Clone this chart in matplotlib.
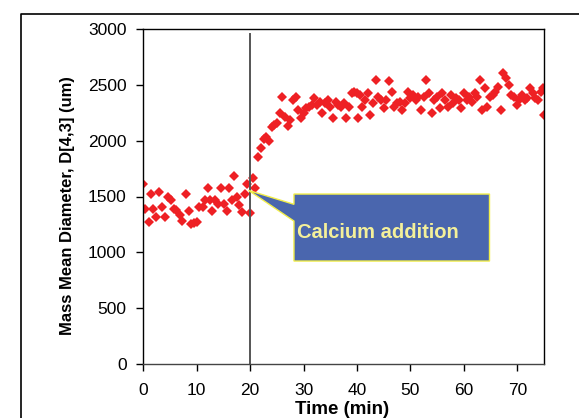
import matplotlib
matplotlib.use("Agg")
import matplotlib.pyplot as plt
from matplotlib.patches import Polygon
from matplotlib.lines import Line2D

plt.rcParams['font.family'] = ['Liberation Sans', 'DejaVu Sans']

# Time (min) and mass mean diameter D[4,3] (um)
time_min = [0.0, 0.35, 1.0, 1.5, 1.9, 2.4, 2.9, 3.5, 4.1, 4.6, 5.1, 5.7, 6.2, 6.8, 7.3,
            8.0, 8.5, 8.9, 9.5, 10.1, 10.5, 11.1, 11.6, 12.1, 12.5, 12.9, 13.5, 14.0,
            14.5, 15.1, 15.6, 16.1, 16.6, 17.0, 17.5, 18.0, 18.5, 19.0, 19.4, 20.0,
            20.5, 21.0, 21.4, 22.0, 22.5, 23.0, 23.5, 24.0, 24.5, 25.0, 25.5, 26.0,
            26.5, 27.0, 27.5, 28.0, 28.5, 29.0, 29.5, 30.0, 30.5, 31.0, 31.5, 32.0,
            32.5, 33.0, 33.5, 34.0, 34.5, 35.0, 35.5, 36.0, 36.5, 37.0, 37.5, 38.0,
            38.5, 39.0, 39.5, 40.0, 40.2, 40.5, 41.0, 41.5, 42.0, 42.5, 43.0, 43.5,
            44.0, 44.5, 45.0, 45.5, 46.0, 46.5, 47.0, 47.5, 48.0, 48.5, 49.0, 49.5,
            50.0, 50.5, 51.0, 51.5, 52.0, 52.5, 53.0, 53.5, 54.0, 54.5, 55.0, 55.5,
            56.0, 56.5, 57.0, 57.5, 58.0, 58.5, 59.0, 59.5, 60.0, 60.5, 61.0, 61.5,
            62.0, 62.5, 63.0, 63.4, 63.9, 64.4, 64.9, 65.4, 65.9, 66.4, 66.9, 67.4,
            67.9, 68.4, 68.9, 69.4, 69.9, 70.4, 70.9, 71.4, 71.9, 72.4, 72.9, 73.4,
            73.9, 74.4, 74.9, 75.0]
diameter_um = [1614, 1386, 1269, 1521, 1392, 1317, 1542, 1407, 1317, 1497, 1467, 1392, 1377,
               1332, 1281, 1518, 1368, 1257, 1263, 1269, 1407, 1407, 1473, 1572, 1473, 1371,
               1473, 1437, 1578, 1431, 1371, 1572, 1473, 1683, 1497, 1428, 1365, 1518, 1614,
               1356, 1668, 1578, 1856, 1937, 2018, 2036, 1997, 2126, 2141, 2156, 2246, 2395,
               2216, 2135, 2186, 2365, 2395, 2275, 2201, 2246, 2290, 2305, 2320, 2380, 2320,
               2350, 2246, 2335, 2365, 2305, 2201, 2350, 2320, 2305, 2335, 2201, 2305, 2431,
               2440, 2425, 2201, 2410, 2305, 2365, 2425, 2231, 2335, 2545, 2395, 2365, 2290,
               2365, 2530, 2440, 2305, 2335, 2350, 2275, 2335, 2440, 2380, 2410, 2365, 2395,
               2275, 2395, 2545, 2425, 2246, 2365, 2395, 2290, 2425, 2365, 2305, 2410, 2335,
               2380, 2365, 2290, 2425, 2365, 2395, 2350, 2425, 2395, 2545, 2275, 2470, 2305,
               2395, 2410, 2440, 2485, 2275, 2605, 2560, 2500, 2410, 2395, 2320, 2365, 2410,
               2365, 2380, 2470, 2425, 2380, 2365, 2440, 2470, 2231]

x_ticks = [0, 10, 20, 30, 40, 50, 60, 70]
y_ticks = [0, 500, 1000, 1500, 2000, 2500, 3000]

addition_time = 20
addition_line_top = 2955
callout_text = "Calcium addition"
callout_tip = (19.7, 1555)
box_x = (28.2, 64.8)
box_y = (922, 1522)
pointer_y = (1430, 1280)

W, H = 579, 418
fig = plt.figure(figsize=(W / 100, H / 100), dpi=100)
ax = fig.add_axes([143.3 / W, 1 - 364 / H, (544 - 143.3) / W, (364 - 29) / H])

ax.plot(time_min, diameter_um, linestyle='none', marker='D', markersize=4.9,
        color='#ee2024', markeredgewidth=0)

ax.plot([addition_time, addition_time], [0, addition_line_top], color='#555555', lw=1.4)

poly = [(box_x[0], box_y[1]), (box_x[1], box_y[1]), (box_x[1], box_y[0]),
        (box_x[0], box_y[0]), (box_x[0], pointer_y[1]), callout_tip,
        (box_x[0], pointer_y[0])]
ax.add_patch(Polygon(poly, closed=True, facecolor='#4a66ae', edgecolor='#f2ee4a',
                     lw=1.0, zorder=3))
ax.text(box_x[0] + 0.5, (box_y[0] + box_y[1]) / 2 - 45, callout_text, color='#f4f09a',
        fontsize=14.5, fontweight='bold', ha='left', va='center', zorder=4)

ax.set_xlim(0, 75)
ax.set_ylim(0, 3000)
ax.set_xticks(x_ticks)
ax.set_yticks(y_ticks)
ax.tick_params(axis='both', direction='out', length=5, width=1, labelsize=12.5, color='black')
ax.tick_params(axis='x', pad=9)
ax.tick_params(axis='y', pad=7)
for name, s in ax.spines.items():
    s.set_linewidth(1.0)
    s.set_color('black')
ax.spines['bottom'].set_color('#444444')

fig.text(342.5 / W, 1 - 410 / H, "Time (min)", fontsize=13.5, fontweight='bold',
         ha='center', va='center')
fig.text(67.6 / W, 1 - 206 / H, "Mass Mean Diameter, D[4,3] (um)", fontsize=11.9,
         fontweight='bold', rotation=90, ha='center', va='center')

fig.add_artist(Line2D([21.4 / W, 21.4 / W, 1.0], [0.0, 1 - 13.5 / H, 1 - 13.5 / H],
                      transform=fig.transFigure, color='black', lw=1.2))

fig.savefig("out.png", dpi=100)
